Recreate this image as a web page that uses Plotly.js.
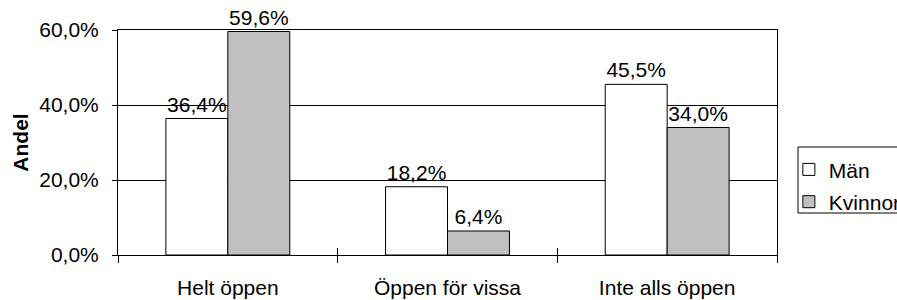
<!DOCTYPE html>
<html>
<head>
<meta charset="utf-8">
<script src="https://cdn.plot.ly/plotly-3.0.1.min.js"></script>
<style>html,body{margin:0;padding:0;background:#fff;}#chart{width:897px;height:300px;}</style>
</head>
<body>
<div id="chart"></div>
<script>
const categories = ["Helt öppen", "Öppen för vissa", "Inte alls öppen"];
const seriesNames = ["Män", "Kvinnor"];
const manValues = [36.4, 18.2, 45.5];
const kvinnorValues = [59.6, 6.4, 34.0];
const yTickValues = [0, 20, 40, 60];
const yTickText = yTickValues.map(v => v.toFixed(1).replace(".", ",") + "%");

const FONT = "Liberation Sans, Arial, sans-serif";
const FS = 21;

const traces = [
  {
    type: "bar", name: seriesNames[0], x: categories, y: manValues,
    legendgroup: "a",
    marker: {color: "#ffffff", line: {color: "#000000", width: 1}},
    texttemplate: "%{y:.1f}%", textposition: "outside",
    textfont: {family: FONT, size: FS, color: "#000"},
    cliponaxis: false, hoverinfo: "skip"
  },
  {
    type: "bar", name: seriesNames[1], x: categories, y: kvinnorValues,
    legendgroup: "b",
    marker: {color: "#c0c0c0", line: {color: "#000000", width: 1}},
    texttemplate: "%{y:.1f}%", textposition: "outside",
    textfont: {family: FONT, size: FS, color: "#000"},
    cliponaxis: false, hoverinfo: "skip"
  },
  {
    type: "bar", x: categories, y: [null, null, null], xaxis: "x2", yaxis: "y",
    showlegend: false, hoverinfo: "skip"
  }
];

const layout = {
  width: 897, height: 300,
  margin: {l: 118, r: 120, t: 30, b: 45, autoexpand: false},
  paper_bgcolor: "#ffffff", plot_bgcolor: "#ffffff",
  font: {family: FONT, size: FS, color: "#000"},
  separators: ",.",
  barmode: "group", bargap: 0.436, bargroupgap: 0,
  showlegend: true,
  legend: {
    x: 1.018, xanchor: "left", y: 0.47, yanchor: "top",
    borderwidth: 0, bgcolor: "rgba(0,0,0,0)",
    font: {family: FONT, size: FS, color: "#000"},
    traceorder: "grouped", tracegroupgap: 2,
    itemwidth: 30
  },
  shapes: [
    {type: "rect", xref: "paper", yref: "paper",
     x0: (798 - 118) / 659, x1: (905 - 118) / 659,
     y0: (255 - 213) / 225, y1: (255 - 147) / 225,
     line: {color: "#000", width: 1}, fillcolor: "rgba(0,0,0,0)", layer: "below"}
  ],
  xaxis: {
    type: "category", tickson: "boundaries",
    ticks: "outside", ticklen: 7, tickcolor: "#000", tickwidth: 1,
    showline: true, linecolor: "#000", linewidth: 1, mirror: true,
    showgrid: false, zeroline: false,
    ticklabelstandoff: 14,
    tickfont: {family: FONT, size: FS, color: "#000"},
    fixedrange: true
  },
  xaxis2: {
    type: "category", overlaying: "x", matches: "x", tickson: "boundaries",
    ticks: "inside", ticklen: 7, tickcolor: "#000", tickwidth: 1,
    showticklabels: false, showline: false, showgrid: false, zeroline: false,
    side: "bottom", anchor: "y"
  },
  yaxis: {
    range: [0, 60], tickmode: "array", tickvals: yTickValues, ticktext: yTickText,
    ticks: "outside", ticklen: 5, tickcolor: "#000", tickwidth: 1,
    showline: true, linecolor: "#000", linewidth: 1, mirror: true,
    showgrid: true, gridcolor: "#000", gridwidth: 1, zeroline: false,
    ticklabelstandoff: 9,
    tickfont: {family: FONT, size: FS, color: "#000"},
    title: {text: "<b>Andel</b>", font: {family: FONT, size: FS, color: "#000"}, standoff: 4},
    fixedrange: true
  }
};

Plotly.newPlot("chart", traces, layout, {displayModeBar: false, staticPlot: true});
</script>
</body>
</html>
